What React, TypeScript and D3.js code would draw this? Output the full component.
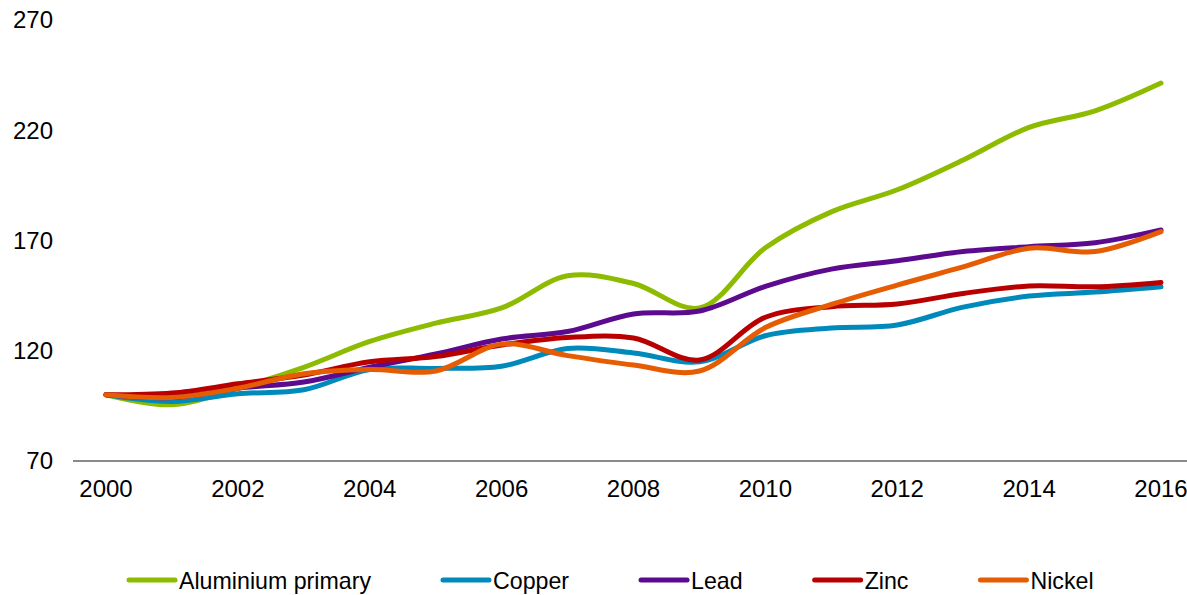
import React, { useEffect, useRef } from "react";
import * as d3 from "d3";

const years = [2000, 2001, 2002, 2003, 2004, 2005, 2006, 2007, 2008, 2009, 2010, 2011, 2012, 2013, 2014, 2015, 2016];
const aluminium = [100, 95.5, 103, 112.5, 124.2, 132.5, 139.4, 154, 150.5, 139.4, 166.7, 183, 193, 206.5, 221.3, 228.8, 241.4];
const copper = [100, 97, 100.5, 102.3, 111.5, 112, 113, 121, 119, 115, 126.8, 130.3, 131.7, 139.8, 144.8, 146.6, 149];
const lead = [100, 98.8, 103, 105.8, 112.5, 118.5, 125.3, 128.7, 136.7, 138, 149.2, 157, 160.8, 165, 167.2, 169, 174.8];
const zinc = [100, 100.8, 105, 109, 115, 117.4, 122.6, 126, 125.8, 115.8, 135.2, 140, 141.2, 146, 149.4, 149, 151];
const nickel = [100, 98.8, 103, 109.6, 111.5, 110.8, 123, 117.8, 113.5, 110.8, 130.5, 141, 149.8, 158, 166.5, 165, 174];

const seriesNames = ["Aluminium primary", "Copper", "Lead", "Zinc", "Nickel"];
const seriesValues = [aluminium, copper, lead, zinc, nickel];
const seriesColors = ["#8dbb00", "#0089bb", "#5c0a8e", "#b80000", "#e65c03"];

const yTicks = [70, 120, 170, 220, 270];
const xTicks = [2000, 2002, 2004, 2006, 2008, 2010, 2012, 2014, 2016];

const W = 1187;
const H = 595;
const FONT = "'Liberation Sans', Arial, Helvetica, sans-serif";

export default function App() {
  const ref = useRef<SVGSVGElement | null>(null);

  useEffect(() => {
    document.body.style.margin = "0";
    const svg = d3.select(ref.current);
    svg.selectAll("*").remove();

    const x = d3.scaleLinear().domain([2000, 2016]).range([106, 1161]);
    const y = d3.scaleLinear().domain([70, 270]).range([461, 20]);

    // y tick labels
    svg
      .append("g")
      .selectAll("text")
      .data(yTicks)
      .join("text")
      .attr("x", 53)
      .attr("y", (d) => y(d))
      .attr("dy", "0.35em")
      .attr("text-anchor", "end")
      .attr("font-family", FONT)
      .attr("font-size", 24)
      .attr("fill", "#000")
      .text((d) => String(d));

    // x axis line
    svg
      .append("line")
      .attr("x1", 73)
      .attr("x2", 1187)
      .attr("y1", y(70))
      .attr("y2", y(70))
      .attr("stroke", "#8a8a8a")
      .attr("stroke-width", 2);

    // x tick labels
    svg
      .append("g")
      .selectAll("text")
      .data(xTicks)
      .join("text")
      .attr("x", (d) => x(d))
      .attr("y", 497)
      .attr("text-anchor", "middle")
      .attr("font-family", FONT)
      .attr("font-size", 24)
      .attr("fill", "#000")
      .text((d) => String(d));

    // lines
    const line = d3
      .line<number>()
      .x((_, i) => x(years[i]))
      .y((d) => y(d))
      .curve(d3.curveCatmullRom.alpha(0.5));

    svg
      .append("g")
      .selectAll("path")
      .data(seriesValues)
      .join("path")
      .attr("d", (d) => line(d) as string)
      .attr("fill", "none")
      .attr("stroke", (_, i) => seriesColors[i])
      .attr("stroke-width", 5)
      .attr("stroke-linecap", "round")
      .attr("stroke-linejoin", "round");

    // legend
    const lg = svg.append("g");
    let cx = 127;
    seriesNames.forEach((name, i) => {
      lg.append("line")
        .attr("x1", cx + 2)
        .attr("x2", cx + 48)
        .attr("y1", 580)
        .attr("y2", 580)
        .attr("stroke", seriesColors[i])
        .attr("stroke-width", 5)
        .attr("stroke-linecap", "round");
      const t = lg
        .append("text")
        .attr("x", cx + 52)
        .attr("y", 589)
        .attr("font-family", FONT)
        .attr("font-size", 23.2)
        .attr("fill", "#000")
        .text(name);
      const tw = (t.node() as SVGTextElement).getComputedTextLength();
      cx = cx + 52 + tw + 70;
    });
  }, []);

  return (
    <svg
      ref={ref}
      width={W}
      height={H}
      style={{ position: "absolute", left: 0, top: 0, background: "#fff" }}
    />
  );
}
